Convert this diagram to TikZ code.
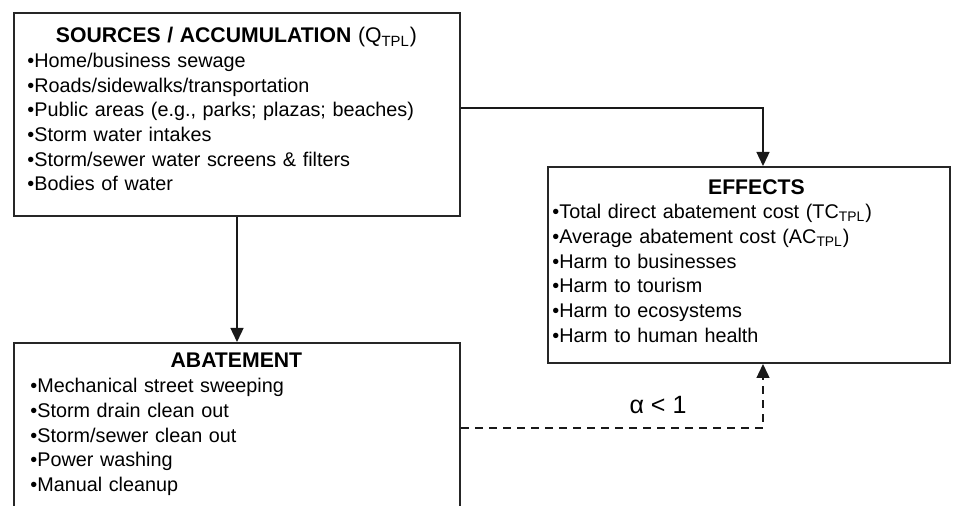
\documentclass[tikz,border=0pt]{standalone}
\usepackage{fontspec}
\setmainfont{Liberation Sans}
\usetikzlibrary{arrows.meta,positioning}

\tikzset{
  panel/.style={draw=black!85, line width=1pt, anchor=north west, inner sep=0pt},
  itemlist/.style={anchor=north west, inner sep=0pt, align=left,
    font=\fontsize{9.9}{12.35}\selectfont},
  flow/.style={line width=.7pt, black!90, -{Triangle[length=7pt,width=6.5pt]}},
  maybe/.style={dash pattern=on 4pt off 3pt},
}
\newcommand\boxtitle[1]{{\centering\fontsize{10.6}{12.35}\selectfont #1\par}}

\begin{document}
\begin{tikzpicture}[x=0.5pt,y=-0.5pt]
  \clip (0,0) rectangle (968,506);

  % the three boxes
  \node[panel, minimum width=223pt, minimum height=101.5pt] (src) at (13,12) {};
  \node[panel, minimum width=201pt, minimum height=98pt] (eff) at (547,166) {};
  \node[panel, minimum width=223pt, minimum height=100pt] (abt) at (13,342) {};

  % their lists
  \node[itemlist, text width=209pt] (srctext) at (27,27)
    {\boxtitle{\textbf{SOURCES / ACCUMULATION} (Q\textsubscript{TPL})}
     •Home/business sewage\\
     •Roads/sidewalks/transportation\\
     •Public areas (e.g., parks; plazas; beaches)\\
     •Storm water intakes\\
     •Storm/sewer water screens \& filters\\
     •Bodies of water};
  \node[itemlist, text width=196pt] (efftext) at (552,179)
    {\boxtitle{\hspace*{8pt}\textbf{EFFECTS}}
     •Total direct abatement cost (TC\textsubscript{TPL})\\
     •Average abatement cost (AC\textsubscript{TPL})\\
     •Harm to businesses\\
     •Harm to tourism\\
     •Harm to ecosystems\\
     •Harm to human health};
  \node[itemlist, text width=206pt] (abttext) at (30,353)
    {\boxtitle{\textbf{ABATEMENT}}
     •Mechanical street sweeping\\
     •Storm drain clean out\\
     •Storm/sewer clean out\\
     •Power washing\\
     •Manual cleanup};

  % connectors
  \draw[flow] ([yshift=3.25pt]src.east) -| ([xshift=7pt]eff.north);
  \draw[flow] (src.south) -- (abt.north);
  \draw[flow, maybe] ([yshift=-43pt]abt.north east) -| ([xshift=7pt]eff.south);
  \node[font=\fontsize{12.5}{14}\selectfont] (alpha) at (658,405) {α < 1};
\end{tikzpicture}
\end{document}
